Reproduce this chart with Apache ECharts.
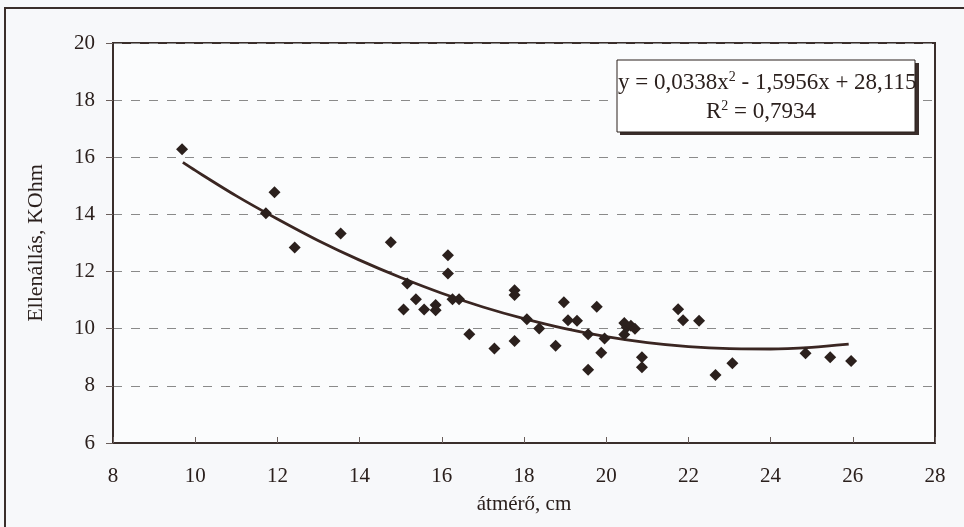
<!DOCTYPE html>
<html><head><meta charset="utf-8">
<script src="https://cdn.jsdelivr.net/npm/echarts@6/dist/echarts.min.js"></script>
<style>html,body{margin:0;padding:0;background:#f7f8fa}#c{width:964px;height:527px}</style>
</head><body><div id="c"></div>
<script>
var diameters = [9.68,11.93,11.72,12.42,13.54,14.76,15.16,15.37,15.07,15.57,15.85,15.85,16.15,16.15,16.26,16.42,16.67,17.28,17.77,17.77,17.77,18.07,18.37,18.77,18.97,19.07,19.29,19.77,19.56,19.96,19.88,19.56,20.44,20.5,20.6,20.7,20.44,20.87,20.87,21.75,21.87,22.26,22.66,23.07,24.85,25.45,25.96];
var resistances = [16.28,14.78,14.04,12.84,13.33,13.03,11.58,11.03,10.67,10.67,10.83,10.65,12.57,11.93,11.03,11.03,9.81,9.31,11.35,11.18,9.57,10.33,10.01,9.40,10.93,10.30,10.28,10.77,9.81,9.66,9.16,8.56,10.2,10.05,10.1,10.0,9.8,9.00,8.65,10.68,10.30,10.28,8.38,8.79,9.14,9.00,8.87];
var trendX = [9.7,10,11,12,13,14,15,16,17,18,19,20,21,22,23,24,25,25.9];
var trendY = [15.82,15.54,14.65,13.84,13.08,12.40,11.79,11.24,10.76,10.35,10.00,9.72,9.51,9.37,9.30,9.29,9.35,9.46];
var xTicks = [8,10,12,14,16,18,20,22,24,26,28];
var yTicks = [6,8,10,12,14,16,18,20];

var ink = '#2b201d';
var font = 'Liberation Serif';
var chart = echarts.init(document.getElementById('c'));
chart.setOption({
  backgroundColor: '#f7f8fa',
  animation: false,
  grid: {left: 113, right: 29, top: 43, bottom: 84, show: true, borderColor: '#3a2e2b', borderWidth: 2, backgroundColor: 'rgba(255,255,255,0.5)'},
  xAxis: {
    type: 'value', min: xTicks[0], max: xTicks[xTicks.length-1], interval: 2,
    name: 'átmérő, cm', nameLocation: 'middle', nameGap: 51,
    nameTextStyle: {fontFamily: font, fontSize: 21, color: ink},
    axisLine: {show: true, lineStyle: {color: '#3a2e2b', width: 2}},
    axisTick: {show: true, inside: true, length: 6, lineStyle: {color: '#6a5e5b'}},
    axisLabel: {fontFamily: font, fontSize: 21, color: ink, margin: 23},
    splitLine: {show: false}
  },
  yAxis: {
    type: 'value', min: yTicks[0], max: yTicks[yTicks.length-1], interval: 2,
    name: 'Ellenállás, KOhm', nameLocation: 'middle', nameGap: 66,
    nameTextStyle: {fontFamily: font, fontSize: 22, color: ink},
    axisLine: {show: true, lineStyle: {color: '#3a2e2b', width: 2}},
    axisTick: {show: true, inside: false, length: 7, lineStyle: {color: '#6a5e5b'}},
    axisLabel: {fontFamily: font, fontSize: 21, color: ink, margin: 18},
    splitLine: {show: true, lineStyle: {color: '#8a8a8a', type: [9, 9], width: 1}}
  },
  series: [
    {type: 'line', data: trendX.map(function(x,i){return [x, trendY[i]];}), smooth: 0.3, symbol: 'none',
     lineStyle: {color: '#3a2622', width: 2.8}, z: 2},
    {type: 'scatter', data: diameters.map(function(x,i){return [x, resistances[i]];}), symbol: 'diamond', symbolSize: 12,
     itemStyle: {color: ink, opacity: 1}, z: 3}
  ],
  graphic: [
    {type: 'rect', shape: {x: 5, y: 8, width: 960, height: 530}, style: {fill: 'none', stroke: '#3a2e2b', lineWidth: 2}, silent: true},
    {type: 'rect', shape: {x: 620, y: 63, width: 299, height: 72}, style: {fill: '#3a2e2b'}, z: 9},
    {type: 'rect', shape: {x: 617, y: 60, width: 298, height: 72}, style: {fill: '#ffffff', stroke: '#2b201d', lineWidth: 1}, z: 10},
    {type: 'text', left: 618, top: 70, z: 11, style: {
      text: '{n|y = 0,0338x}{s|2}{n| - 1,5956x + 28,115}',
      rich: {n: {fontFamily: font, fontSize: 23, fill: ink}, s: {fontFamily: font, fontSize: 14, fill: ink, verticalAlign: 'top', padding: [0,0,12,0]}}}},
    {type: 'text', left: 706, top: 99, z: 11, style: {
      text: '{n|R}{s|2}{n| = 0,7934}',
      rich: {n: {fontFamily: font, fontSize: 23, fill: ink}, s: {fontFamily: font, fontSize: 14, fill: ink, verticalAlign: 'top', padding: [0,0,12,0]}}}}
  ]
});
</script></body></html>
